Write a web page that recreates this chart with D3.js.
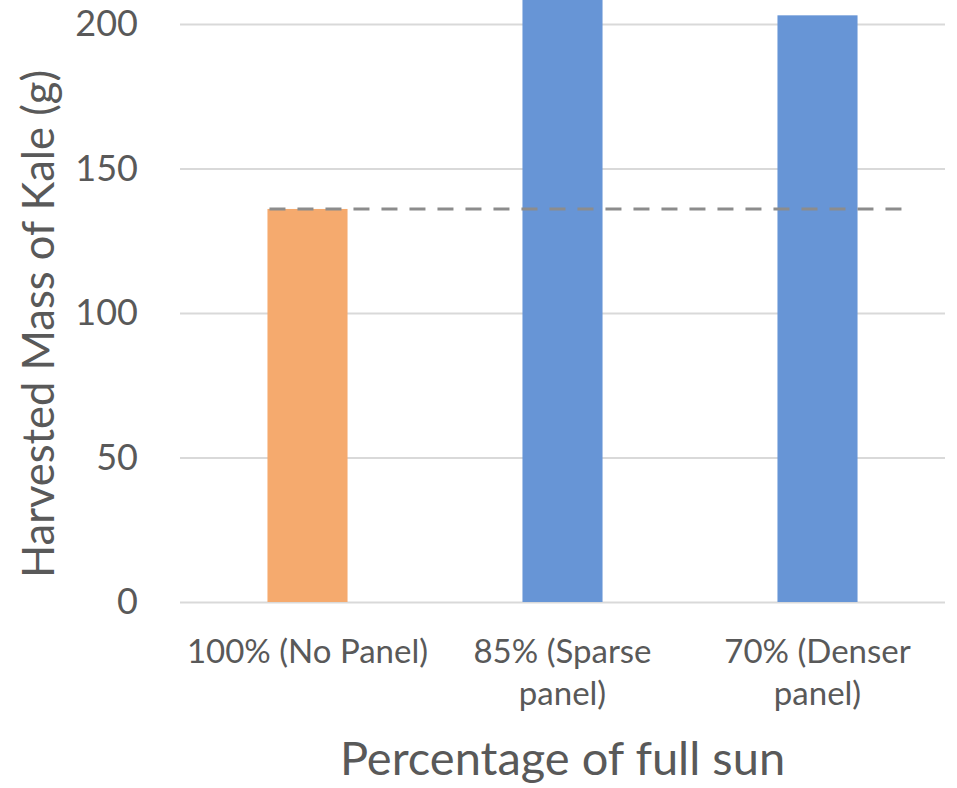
<!DOCTYPE html>
<html>
<head>
<meta charset="utf-8">
<script src="https://cdn.jsdelivr.net/npm/d3@7"></script>
<style>
  html, body { margin: 0; padding: 0; background: #fff; }
  svg { display: block; font-family: Lato, "Open Sans", sans-serif; }
</style>
</head>
<body>
<svg id="chart" width="957" height="788"></svg>
<script>
// Harvested kale mass by shading treatment
const categories = [["100% (No Panel)"], ["85% (Sparse", "panel)"], ["70% (Denser", "panel)"]];
const categoryKeys = ["100% (No Panel)", "85% (Sparse panel)", "70% (Denser panel)"];
const values = [136, 215, 203];
const barColors = ["#F5AA6E", "#6795D6", "#6795D6"];
const referenceValue = 136;
const yTicks = [0, 50, 100, 150, 200];
const yTitle = "Harvested Mass of Kale (g)";
const xTitle = "Percentage of full sun";

const svg = d3.select("#chart");
const plot = { left: 180, right: 945, top: 24, bottom: 602 };

const x = d3.scaleBand()
  .domain(categoryKeys)
  .range([plot.left, plot.right])
  .paddingInner(0.686)
  .paddingOuter(0.343);

const y = d3.scaleLinear().domain([0, 200]).range([plot.bottom, plot.top]);

// gridlines + tick labels
const yAxis = d3.axisLeft(y).tickValues(yTicks).tickSize(-(plot.right - plot.left)).tickPadding(42).tickFormat(d3.format("d"));
const gy = svg.append("g").attr("transform", `translate(${plot.left},0)`).call(yAxis);
gy.select(".domain").remove();
gy.selectAll(".tick line").attr("stroke", "#D9D9D9").attr("stroke-width", 2);
gy.selectAll(".tick text").attr("fill", "#595959").attr("font-size", 36).attr("font-family", "Lato, sans-serif");

// bars
svg.append("g").selectAll("rect")
  .data(values)
  .join("rect")
  .attr("x", (d, i) => x(categoryKeys[i]))
  .attr("width", x.bandwidth())
  .attr("y", d => y(d))
  .attr("height", d => y(0) - y(d))
  .attr("fill", (d, i) => barColors[i]);

// reference line at the no-panel yield
const x0 = x(categoryKeys[0]);
svg.append("line")
  .attr("x1", x0 + 2)
  .attr("x2", x(categoryKeys[2]) + x.bandwidth() + 45)
  .attr("y1", y(referenceValue))
  .attr("y2", y(referenceValue))
  .attr("stroke", "#8C8C8C")
  .attr("stroke-width", 3)
  .attr("stroke-dasharray", "16,12");

// category labels
const cl = svg.append("g");
categories.forEach((lines, i) => {
  const cx = x(categoryKeys[i]) + x.bandwidth() / 2;
  lines.forEach((t, j) => {
    cl.append("text")
      .attr("x", cx)
      .attr("y", 663 + j * 42)
      .attr("text-anchor", "middle")
      .attr("fill", "#595959")
      .attr("font-size", 33)
      .text(t);
  });
});

// axis titles
svg.append("text")
  .attr("transform", `translate(54,324) rotate(-90)`)
  .attr("text-anchor", "middle")
  .attr("fill", "#595959")
  .attr("font-size", 43.5)
  .text(yTitle);

svg.append("text")
  .attr("x", (plot.left + plot.right) / 2)
  .attr("y", 775)
  .attr("text-anchor", "middle")
  .attr("fill", "#595959")
  .attr("font-size", 47)
  .text(xTitle);
</script>
</body>
</html>
